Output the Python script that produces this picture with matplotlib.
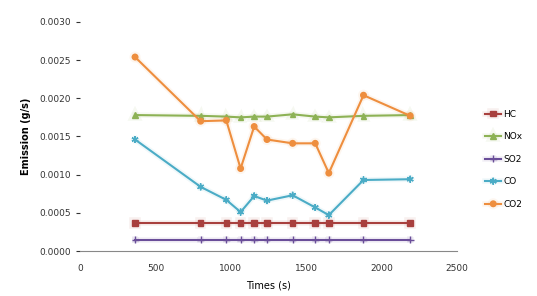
import matplotlib.pyplot as plt
import matplotlib.patheffects as pe

# Emission time series (g/s)
tiempo = [365, 800, 970, 1065, 1155, 1240, 1410, 1560, 1650, 1880, 2190]
hc = [0.00037, 0.00037, 0.00037, 0.00037, 0.00037, 0.00037, 0.00037, 0.00037, 0.00037, 0.00037, 0.00037]
nox = [0.00178, 0.00177, 0.00176, 0.00175, 0.00176, 0.00176, 0.00179, 0.00176, 0.00175, 0.00177, 0.00178]
so2 = [0.00015, 0.00015, 0.00015, 0.00015, 0.00015, 0.00015, 0.00015, 0.00015, 0.00015, 0.00015, 0.00015]
co = [0.00146, 0.00084, 0.00067, 0.00051, 0.00072, 0.00066, 0.00073, 0.00057, 0.00047, 0.00093, 0.00094]
co2 = [0.00254, 0.00170, 0.00171, 0.00108, 0.00163, 0.00146, 0.00141, 0.00141, 0.00102, 0.00204, 0.00177]
etiquetas = ['HC', 'NOx', 'SO2', 'CO', 'CO2']

fig = plt.figure(figsize=(5.37, 2.96), dpi=100)
ax = fig.add_axes([0.149, 0.152, 0.702, 0.774])

series = [
    (hc, '#A8403E', 's', 4),
    (nox, '#8DB255', '^', 4),
    (so2, '#6A4E99', '+', 5),
    (co, '#4BACC6', (6, 2, 0), 5),
    (co2, '#EE8E3E', 'o', 4),
]
for (vals, color, mk, ms), lab in zip(series, etiquetas):
    ax.plot(tiempo, vals, color=color, marker=mk, markersize=ms, lw=1.5,
            label=lab, markeredgecolor=color,
            path_effects=[pe.Stroke(linewidth=4, foreground=color, alpha=0.08), pe.Normal()])

ax.set_xlim(0, 2500)
ax.set_ylim(0, 0.003)
ax.set_xticks(range(0, 2501, 500))
ax.set_yticks([i * 0.0005 for i in range(7)])
ax.set_yticklabels([f'{i * 0.0005:.4f}' for i in range(7)])
ax.tick_params(labelsize=6.5, colors='#333333', length=3)
ax.tick_params(axis='x', length=0, pad=9)
for s in ['top', 'right', 'left']:
    ax.spines[s].set_visible(False)
ax.spines['bottom'].set_color('#888888')

ax.set_xlabel('Times (s)', fontsize=7, labelpad=6)
ax.set_ylabel('Emission (g/s)', fontsize=7, fontweight='bold', labelpad=6)

ax.legend(loc='center left', bbox_to_anchor=(1.065, 0.40), frameon=False,
          fontsize=6.5, handlelength=1.8, handletextpad=0.2, labelspacing=1.5,
          borderaxespad=0)

fig.savefig('out.png', dpi=100)
